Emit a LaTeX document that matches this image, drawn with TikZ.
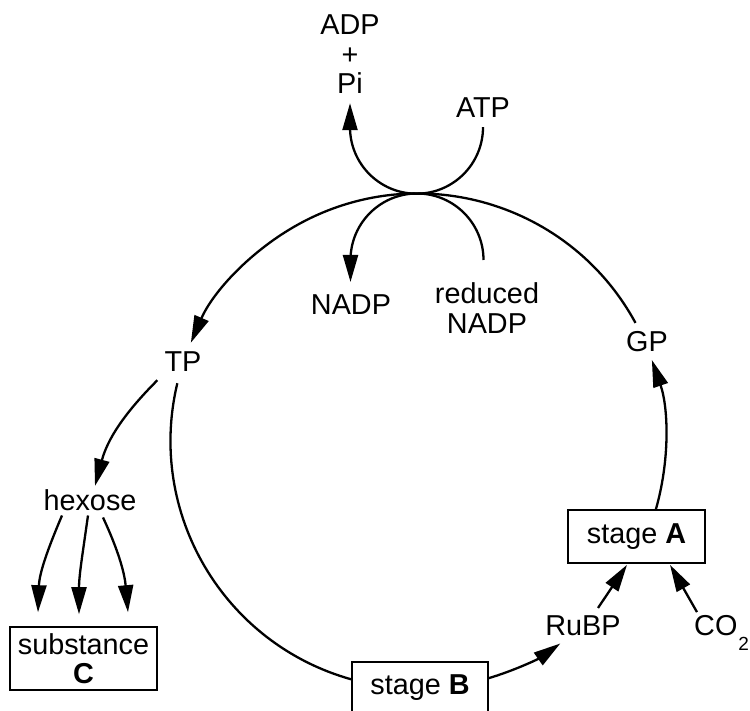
\documentclass[tikz,border=0pt]{standalone}
\usepackage{fontspec}
\setmainfont{Liberation Sans}
\usetikzlibrary{arrows.meta,calc}
\begin{document}
\begin{tikzpicture}[x=1pt,y=1pt,
  lbl/.style={inner sep=0pt, font=\fontsize{28.8}{29.5}\selectfont},
  boxed/.style={lbl, draw, line width=1.6pt},
  conn/.style={line width=2.3pt},
  arr/.style={conn, -{Triangle[length=27pt,width=15pt]}}]
\useasboundingbox (0,0) rectangle (750,-711);
\def\R{247.5}
\coordinate (c) at (418,-441);
% labels
\node[lbl, align=center, anchor=north] (adp) at (350,-14.6) {ADP\\+\\Pi};
\node[lbl, anchor=base] (atp) at (483,-118) {ATP};
\node[lbl, anchor=base] (nadp) at (351,-315) {NADP};
\node[lbl, align=center, anchor=north] (rnadp) at (487,-282.6) {reduced\\NADP};
\node[lbl, anchor=base] (tp) at (183,-372) {TP};
\node[lbl, anchor=base] (gp) at (647,-352) {GP};
\node[lbl, anchor=base] (hexose) at (90,-510) {hexose};
\node[boxed, align=center, minimum width=147pt, minimum height=63pt] (subc) at (83.5,-658.5) {substance\\\textbf{C}};
\node[boxed, minimum width=137pt, minimum height=53pt] (stageA) at (636.5,-536.5) {stage \textbf{A}};
\node[boxed, minimum width=136pt, minimum height=52pt] (stageB) at (420,-688) {stage \textbf{B}};
\node[lbl, anchor=base] (rubp) at (583,-635) {RuBP};
\node[lbl, anchor=base west] (co2) at (694,-635) {CO\hspace{1pt}\raisebox{-15pt}{\fontsize{19}{19}\selectfont 2}};
% points of the cycle
\coordinate (gpTop) at ($(c)+(28.5:\R)$);
\coordinate (tpLow) at ($(c)+(166.5:\R)$);
\coordinate (bRight) at ($(c)+(286.4:\R)$);
\coordinate (aTop) at ($(c)+(-16.2:\R)$);
% cycle
\draw[arr] (gpTop) arc[start angle=28.5, end angle=156.6, radius=\R];
\draw[conn] (tpLow) arc[start angle=166.5, end angle=254.5, radius=\R];
\draw[arr] (bRight) arc[start angle=286.4, end angle=305.1, radius=\R];
\draw[arr] (aTop) arc[start angle=-16.2, end angle=19.1, radius=\R];
% ATP -> ADP + Pi
\draw[arr] ([yshift=-9pt]atp.south) arc[start angle=0, end angle=-180, radius=66.5] -- ++(0,24);
% reduced NADP -> NADP
\draw[arr] ([xshift=-3.5pt,yshift=22.6pt]rnadp.north) arc[start angle=0, end angle=180, radius=66.5] -- ++(0,-22);
% TP -> hexose
\draw[arr] ([xshift=-7pt,yshift=-8pt]tp.south west) to[out=-135,in=75] ([xshift=5pt,yshift=3pt]hexose.north);
% hexose -> substance C
\draw[arr] ([xshift=-28pt,yshift=-5pt]hexose.south) to[out=-113,in=88] ([xshift=-45.5pt,yshift=14pt]subc.north);
\draw[arr] ([xshift=-2pt,yshift=-5pt]hexose.south) to[out=-98,in=90] ([xshift=-4.5pt,yshift=12pt]subc.north);
\draw[arr] ([xshift=13pt,yshift=-7pt]hexose.south) to[out=-65,in=95] ([xshift=44.5pt,yshift=14pt]subc.north);
% RuBP, CO2 -> stage A
\draw[arr] ([xshift=15pt,yshift=7pt]rubp.north) -- ([xshift=-9.5pt,yshift=-1pt]stageA.south);
\draw[arr] ([xshift=3pt,yshift=2.6pt]co2.north west) -- ([xshift=33.5pt,yshift=-1pt]stageA.south);
\end{tikzpicture}
\end{document}
